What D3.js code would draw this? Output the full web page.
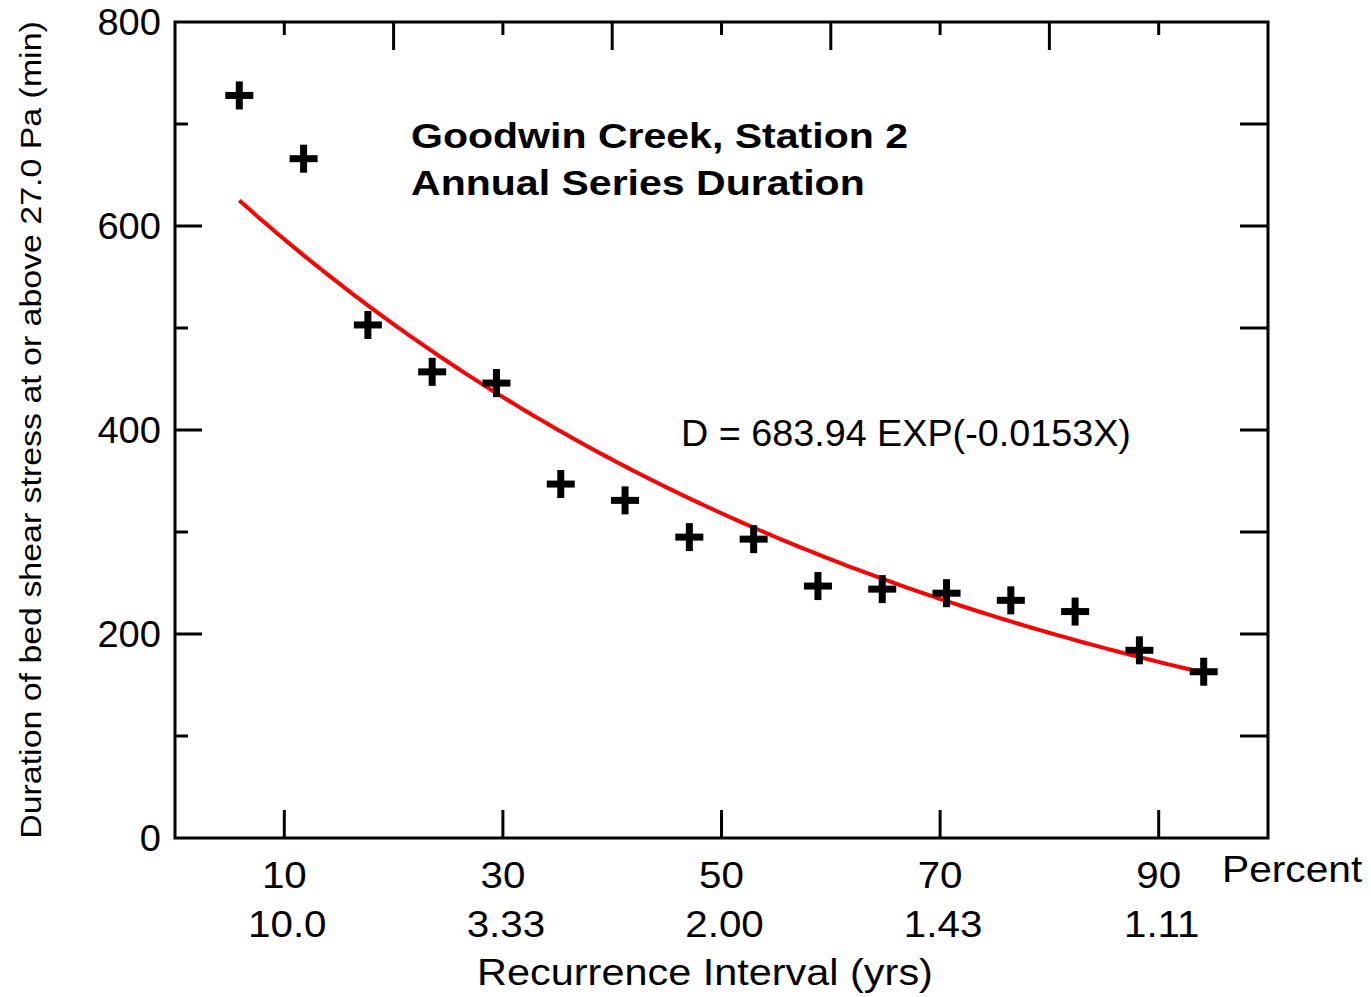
<!DOCTYPE html>
<html>
<head>
<meta charset="utf-8">
<script src="https://cdn.jsdelivr.net/npm/d3@7"></script>
<style>
  html, body { margin: 0; padding: 0; background: #fff; }
  svg { display: block; font-family: "Liberation Sans", Arial, sans-serif; }
</style>
</head>
<body>
<svg id="chart" width="1371" height="997"></svg>
<script>
// ---- Data ----
const rank = [1,2,3,4,5,6,7,8,9,10,11,12,13,14,15,16];
const nYearsPlus1 = 17;
const duration = [728, 666, 503, 457, 446, 347, 331, 295, 293, 247, 244, 240, 233, 222, 184, 163];
const percentTicks = [10, 30, 50, 70, 90];
const recurrenceLabels = ["10.0", "3.33", "2.00", "1.43", "1.11"];
const topLongTicks = [20, 40, 60, 80];
const yMajorTicks = [0, 200, 400, 600, 800];
const yMinorTicks = [100, 300, 500, 700];
const fitCoef = 683.94;
const fitRate = -0.0153;
const titleLines = ["Goodwin Creek, Station 2", "Annual Series Duration"];
const equationText = "D = 683.94 EXP(-0.0153X)";
const yTitle = "Duration of bed shear stress at or above 27.0 Pa (min)";
const xTitle = "Recurrence Interval (yrs)";

const percent = rank.map(r => r / nYearsPlus1 * 100);

// ---- Layout ----
const L = 175, R = 1268, T = 22, B = 838;
const svg = d3.select("#chart");
const x = d3.scaleLinear().domain([0, 100]).range([L, R]);
const y = d3.scaleLinear().domain([0, 800]).range([B, T]);
const FS = 37;

// text helper with horizontal stretch
function label(parent, tx, ty, str, opts) {
  const o = Object.assign({size: FS, sx: 1, anchor: "start", weight: "normal", rotate: 0, dy: null}, opts || {});
  const t = parent.append("text")
    .attr("transform", `translate(${tx},${ty}) rotate(${o.rotate}) scale(${o.sx},1)`)
    .attr("text-anchor", o.anchor).attr("font-size", o.size).attr("font-weight", o.weight)
    .text(str);
  if (o.dy) t.attr("dy", o.dy);
  return t;
}

// Frame
svg.append("rect").attr("x", L).attr("y", T).attr("width", R - L).attr("height", B - T)
  .attr("fill", "none").attr("stroke", "#000").attr("stroke-width", 3);

const tickG = svg.append("g").attr("stroke", "#000").attr("stroke-width", 3);
// Top ticks
percentTicks.forEach(v => tickG.append("line").attr("x1", x(v)).attr("x2", x(v)).attr("y1", T).attr("y2", T + 13));
topLongTicks.forEach(v => tickG.append("line").attr("x1", x(v)).attr("x2", x(v)).attr("y1", T).attr("y2", T + 28));
// Bottom ticks
percentTicks.forEach(v => tickG.append("line").attr("x1", x(v)).attr("x2", x(v)).attr("y1", B).attr("y2", B - 28));
// Left ticks
yMajorTicks.filter(v => v > 0 && v < 800).forEach(v => tickG.append("line").attr("x1", L).attr("x2", L + 27).attr("y1", y(v)).attr("y2", y(v)));
yMinorTicks.forEach(v => tickG.append("line").attr("x1", L).attr("x2", L + 13).attr("y1", y(v)).attr("y2", y(v)));
// Right ticks
yMajorTicks.filter(v => v > 0 && v < 800).concat(yMinorTicks).forEach(v =>
  tickG.append("line").attr("x1", R).attr("x2", R - 28).attr("y1", y(v)).attr("y2", y(v)));

const textG = svg.append("g").attr("fill", "#000");
// Y tick labels
yMajorTicks.forEach(v => label(textG, 161, y(v), v, {anchor: "end", sx: 1.03, dy: "0.36em"}));

// X tick labels
percentTicks.forEach((v, i) => {
  label(textG, x(v), 888, v, {anchor: "middle", sx: 1.09});
  label(textG, x(v) + 3, 937, recurrenceLabels[i], {anchor: "middle", sx: 1.09});
});

label(textG, 1222, 882, "Percent", {sx: 1.1});
label(textG, 705, 985, xTitle, {anchor: "middle", sx: 1.12});

// Y title
label(textG, 41, 430, yTitle, {anchor: "middle", size: 30, sx: 1.13, rotate: -90});

// Title
titleLines.forEach((s, i) => label(textG, 411, 148 + i * 47, s, {size: 36, weight: "bold", sx: 1.14}));

// Equation
label(textG, 681, 446, equationText, {sx: 1.02});

// Fit curve
const xs = d3.range(percent[0], percent[percent.length - 1] + 0.01, 0.5);
const line = d3.line().x(d => x(d)).y(d => y(fitCoef * Math.exp(fitRate * d)));
svg.append("path").datum(xs).attr("d", line)
  .attr("fill", "none").attr("stroke", "#ff0000").attr("stroke-width", 4);

// Markers (plus signs)
const arm = 14, th = 3.5;
const mk = svg.append("g").attr("fill", "#000");
percent.forEach((p, i) => {
  const cx = x(p), cy = y(duration[i]);
  mk.append("rect").attr("x", cx - arm).attr("y", cy - th).attr("width", 2 * arm).attr("height", 2 * th);
  mk.append("rect").attr("x", cx - th).attr("y", cy - arm).attr("width", 2 * th).attr("height", 2 * arm);
});
</script>
</body>
</html>
